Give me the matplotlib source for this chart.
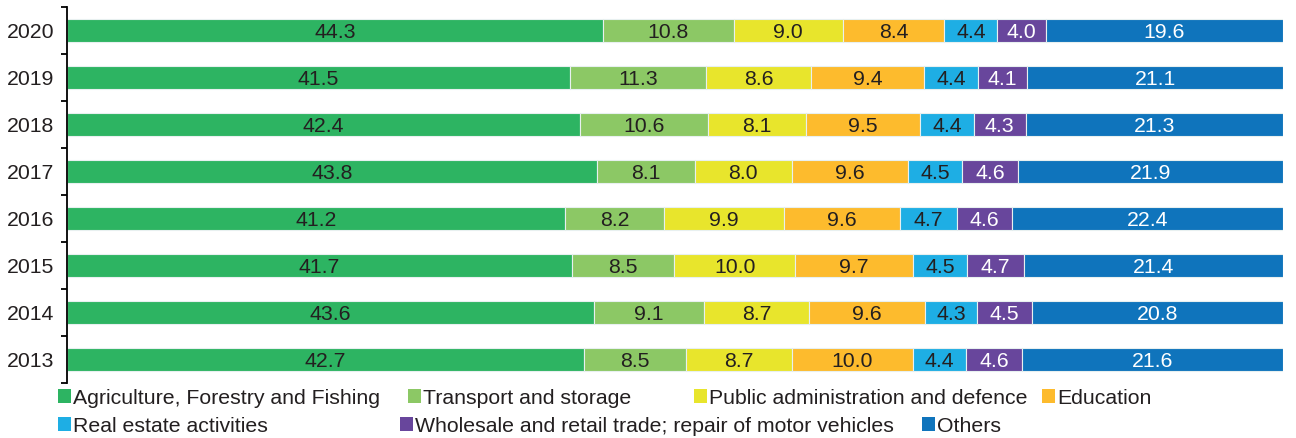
import matplotlib
matplotlib.use("Agg")
import matplotlib.pyplot as plt
import numpy as np
from matplotlib.patches import Patch

plt.rcParams['font.family'] = ['Liberation Sans', 'DejaVu Sans']

years = ["2020", "2019", "2018", "2017", "2016", "2015", "2014", "2013"]
sectors = ["Agriculture, Forestry and Fishing", "Transport and storage",
           "Public administration and defence", "Education",
           "Real estate activities", "Wholesale and retail trade; repair of motor vehicles",
           "Others"]
agri = [44.3, 41.5, 42.4, 43.8, 41.2, 41.7, 43.6, 42.7]
transport = [10.8, 11.3, 10.6, 8.1, 8.2, 8.5, 9.1, 8.5]
public = [9.0, 8.6, 8.1, 8.0, 9.9, 10.0, 8.7, 8.7]
education = [8.4, 9.4, 9.5, 9.6, 9.6, 9.7, 9.6, 10.0]
realestate = [4.4, 4.4, 4.4, 4.5, 4.7, 4.5, 4.3, 4.4]
wholesale = [4.0, 4.1, 4.3, 4.6, 4.6, 4.7, 4.5, 4.6]
others = [19.6, 21.1, 21.3, 21.9, 22.4, 21.4, 20.8, 21.6]

series = [agri, transport, public, education, realestate, wholesale, others]
colors = ["#2db462", "#8cc865", "#e8e52c", "#fdbb2d", "#1eaee4", "#68469c", "#0f74bc"]
text_colors = ["#231f20"] * 5 + ["white", "white"]

fig = plt.figure(figsize=(12.96, 4.38), dpi=100)
ax = fig.add_axes([67/1296, 1 - 383/438, (1283-67)/1296, (383-7)/438])

data = np.array(series, dtype=float)
totals = data.sum(axis=0)
y = np.arange(len(years))
left = np.zeros(len(years))
for i, vals in enumerate(series):
    w = np.array(vals) / totals * 100
    ax.barh(y, w, left=left, height=0.51, color=colors[i], edgecolor="#e8f0f0", linewidth=0.8)
    for j in range(len(years)):
        ax.text(left[j] + w[j] / 2, y[j], f"{vals[j]:.1f}", ha="center", va="center_baseline",
                fontsize=15.3, color=text_colors[i])
    left += w

ax.set_xlim(0, 100)
ax.set_ylim(len(years) - 0.5, -0.5)
ax.set_yticks(y)
ax.set_yticklabels(years, fontsize=15.3, color="#231f20", va="center_baseline")
ax.set_yticks(np.arange(-0.5, len(years)), minor=True)
ax.tick_params(axis='y', which='major', length=0, pad=9)
ax.tick_params(axis='y', which='minor', length=4, width=1.3, direction='out')
ax.set_xticks([])
for s in ["top", "right", "bottom"]:
    ax.spines[s].set_visible(False)
ax.spines["left"].set_linewidth(1.3)

# legend entries placed in flow layout
positions = [(58, 398), (408, 398), (694, 398), (1042, 398),
             (58, 426), (400, 426), (922, 426)]
for i, (px, py) in enumerate(positions):
    fig.legend(handles=[Patch(facecolor=colors[i], edgecolor='none')], labels=[sectors[i]],
               loc='center left', bbox_to_anchor=(px/1296, 1 - py/438), frameon=False,
               fontsize=15.3, handlelength=0.6, handleheight=0.6, handletextpad=0.12,
               borderpad=0, borderaxespad=0, labelcolor="#231f20")

fig.savefig("out.png", dpi=100)
